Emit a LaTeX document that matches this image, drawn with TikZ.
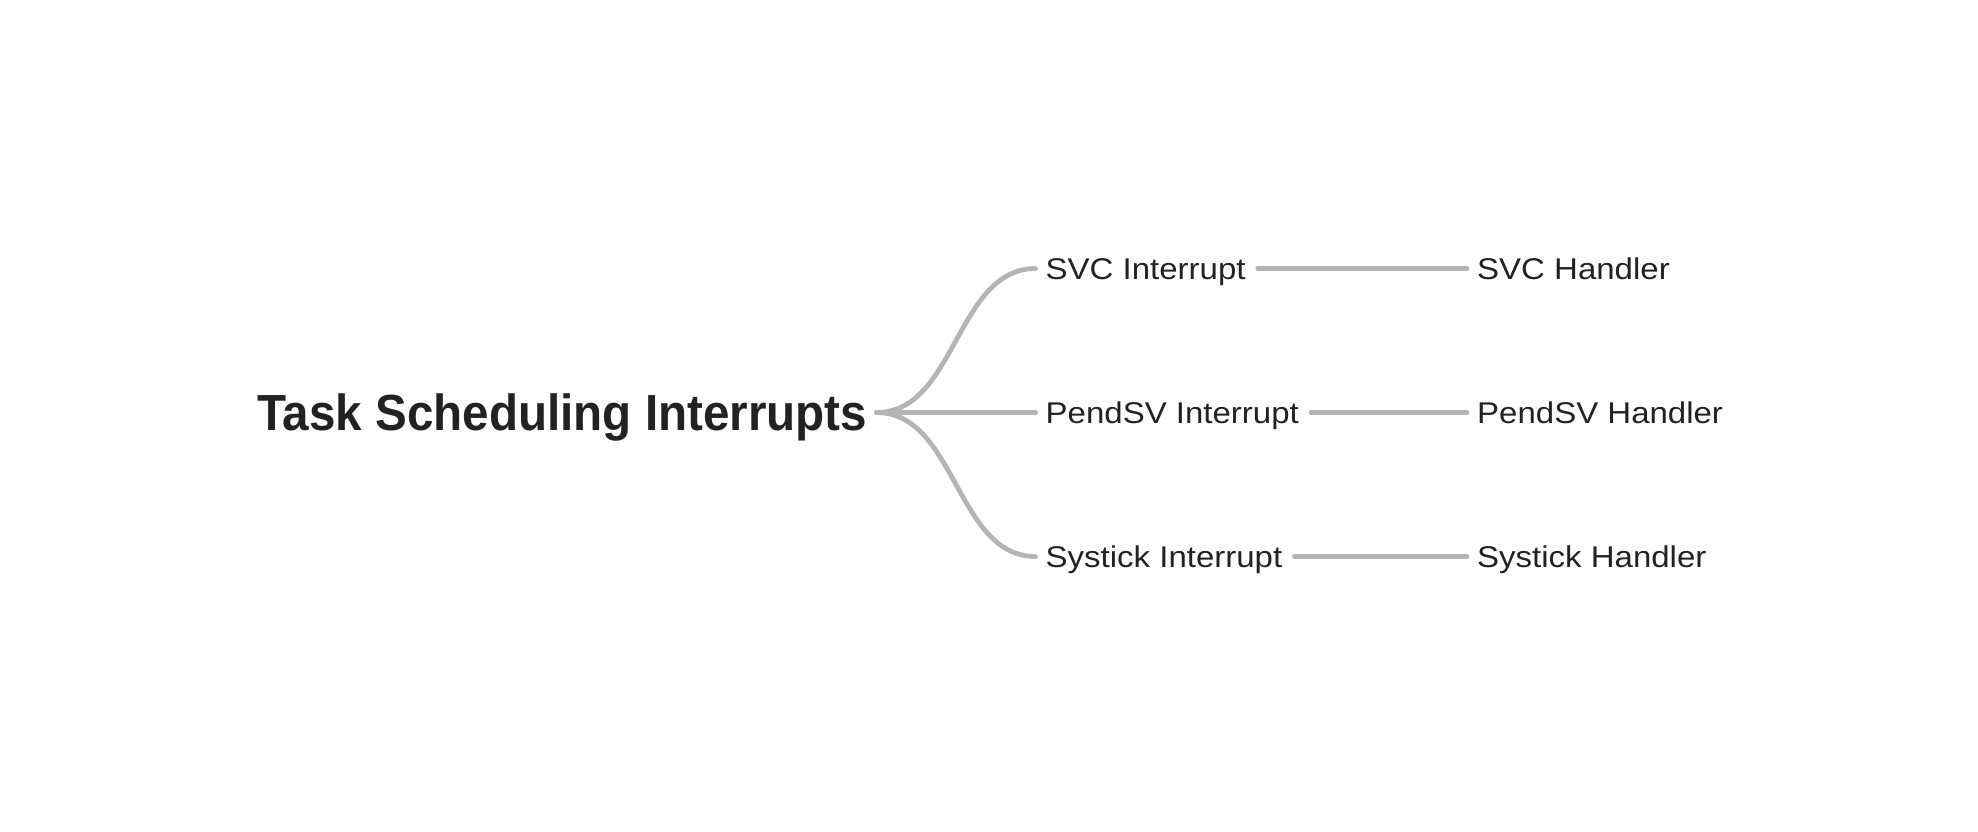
\documentclass[tikz,border=0pt]{standalone}
\usepackage{fontspec}
\setmainfont{Liberation Sans}
\newfontfamily\titlefont[FakeStretch=0.937]{Liberation Sans Bold}
\newfontfamily\childfont[FakeStretch=1.1]{Liberation Sans}
\usetikzlibrary{calc}
\definecolor{txt}{RGB}{34,34,34}
\definecolor{edge}{RGB}{180,180,180}
\tikzset{
  rootnode/.style={inner sep=0pt, text height=36.4pt, text depth=0pt, anchor=west,
    text=txt, font=\titlefont\fontsize{50.8}{60}\selectfont},
  leafnode/.style={inner sep=0pt, text height=21.5pt, text depth=0pt, anchor=west,
    text=txt, font=\childfont\fontsize{30}{36}\selectfont},
  link/.style={draw=edge, line width=4.8pt, line cap=round},
}
\begin{document}
\begin{tikzpicture}[x=1pt,y=-1pt]
\useasboundingbox (0,0) rectangle (1978,831);
\node[rootnode] (root) at (257,412.5) {Task Scheduling Interrupts};
\node[leafnode] (svc) at (1045.5,268.5) {SVC Interrupt};
\node[leafnode] (pendsv) at (1045.5,412.5) {PendSV Interrupt};
\node[leafnode] (systick) at (1045.5,556.5) {Systick Interrupt};
\node[leafnode] (svch) at (1477,268.5) {SVC Handler};
\node[leafnode] (pendsvh) at (1477,412.5) {PendSV Handler};
\node[leafnode] (systickh) at (1477,556.5) {Systick Handler};
\coordinate (hub) at ([xshift=9pt]root.east);
\coordinate (e1) at ([xshift=-10pt]svc.west);
\coordinate (e2) at ([xshift=-10pt]pendsv.west);
\coordinate (e3) at ([xshift=-10pt]systick.west);
\draw[link] (hub) .. controls ($(hub)!0.5!(e1|-hub)$) and ($(e1)!0.5!(hub|-e1)$) .. (e1);
\draw[link] (hub) -- (e2);
\draw[link] (hub) .. controls ($(hub)!0.5!(e3|-hub)$) and ($(e3)!0.5!(hub|-e3)$) .. (e3);
\draw[link, shorten <=12pt, shorten >=10pt] (svc.east) -- (svch.west);
\draw[link, shorten <=12pt, shorten >=10pt] (pendsv.east) -- (pendsvh.west);
\draw[link, shorten <=12pt, shorten >=10pt] (systick.east) -- (systickh.west);
\end{tikzpicture}
\end{document}
